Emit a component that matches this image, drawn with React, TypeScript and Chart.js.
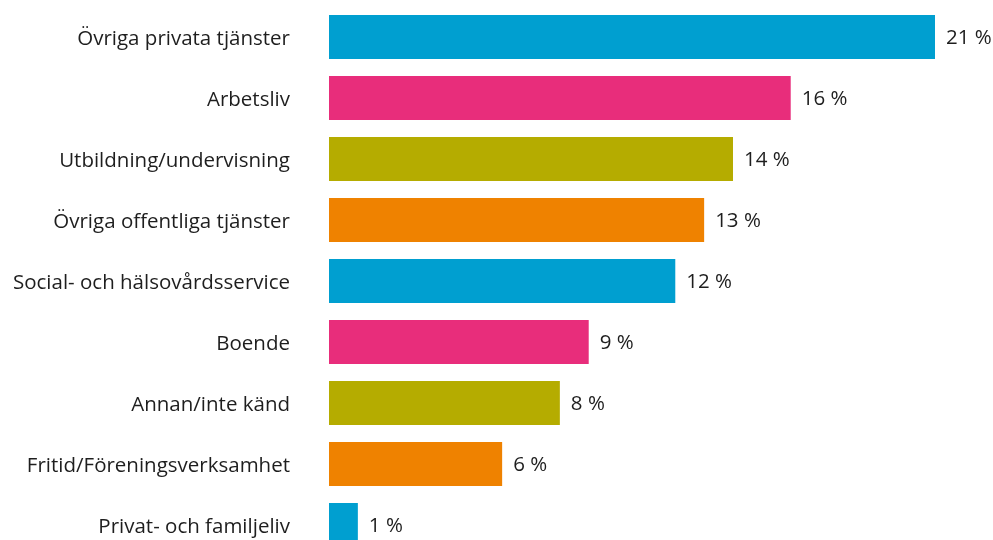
import React, { useEffect, useRef } from "react";
import { Chart, registerables } from "chart.js";

Chart.register(...registerables);

const categories: string[] = [
  "Övriga privata tjänster",
  "Arbetsliv",
  "Utbildning/undervisning",
  "Övriga offentliga tjänster",
  "Social- och hälsovårdsservice",
  "Boende",
  "Annan/inte känd",
  "Fritid/Föreningsverksamhet",
  "Privat- och familjeliv",
];
const values: number[] = [21, 16, 14, 13, 12, 9, 8, 6, 1];
const barColors: string[] = [
  "#009fd0",
  "#e82d7b",
  "#b5ac00",
  "#ef8200",
  "#009fd0",
  "#e82d7b",
  "#b5ac00",
  "#ef8200",
  "#009fd0",
];
const valueSuffix = " %";

const FONT = "'Open Sans', 'DejaVu Sans', sans-serif";
const FONT_SIZE = 20.5;

const valueLabelPlugin = {
  id: "valueLabels",
  afterDatasetsDraw(chart: any) {
    const ctx = chart.ctx;
    const meta = chart.getDatasetMeta(0);
    ctx.save();
    ctx.font = `${FONT_SIZE}px ${FONT}`;
    ctx.fillStyle = "#1e1e1e";
    ctx.textAlign = "left";
    ctx.textBaseline = "middle";
    meta.data.forEach((bar: any, i: number) => {
      ctx.fillText(`${values[i]}${valueSuffix}`, bar.x + 11, bar.y + 1);
    });
    ctx.restore();
  },
};

export default function App() {
  const ref = useRef<HTMLCanvasElement | null>(null);

  useEffect(() => {
    if (!ref.current) return;
    const chart = new Chart(ref.current, {
      type: "bar",
      data: {
        labels: categories,
        datasets: [
          {
            data: values,
            backgroundColor: barColors,
            borderWidth: 0,
            categoryPercentage: 1,
            barPercentage: 44 / 61,
          },
        ],
      },
      options: {
        indexAxis: "y",
        animation: false,
        responsive: false,
        maintainAspectRatio: false,
        layout: { padding: { top: 6.5, bottom: 4.5, left: 0, right: 58 } },
        plugins: {
          legend: { display: false },
          tooltip: { enabled: false },
        },
        scales: {
          x: {
            display: false,
            min: 0,
            max: 21,
          },
          y: {
            grid: { display: false, drawTicks: false },
            border: { display: false },
            ticks: {
              padding: 39,
              labelOffset: 2,
              color: "#1e1e1e",
              font: { family: FONT, size: FONT_SIZE },
            },
            afterFit(scale: any) {
              scale.width = 329;
              scale.paddingTop = 0;
              scale.paddingBottom = 0;
            },
          },
        },
      },
      plugins: [valueLabelPlugin],
    });
    return () => chart.destroy();
  }, []);

  return (
    <div style={{ position: "absolute", left: 0, top: 0, width: 993, height: 540, overflow: "hidden" }}>
      <canvas ref={ref} width={993} height={560} style={{ width: 993, height: 560, display: "block" }} />
    </div>
  );
}
